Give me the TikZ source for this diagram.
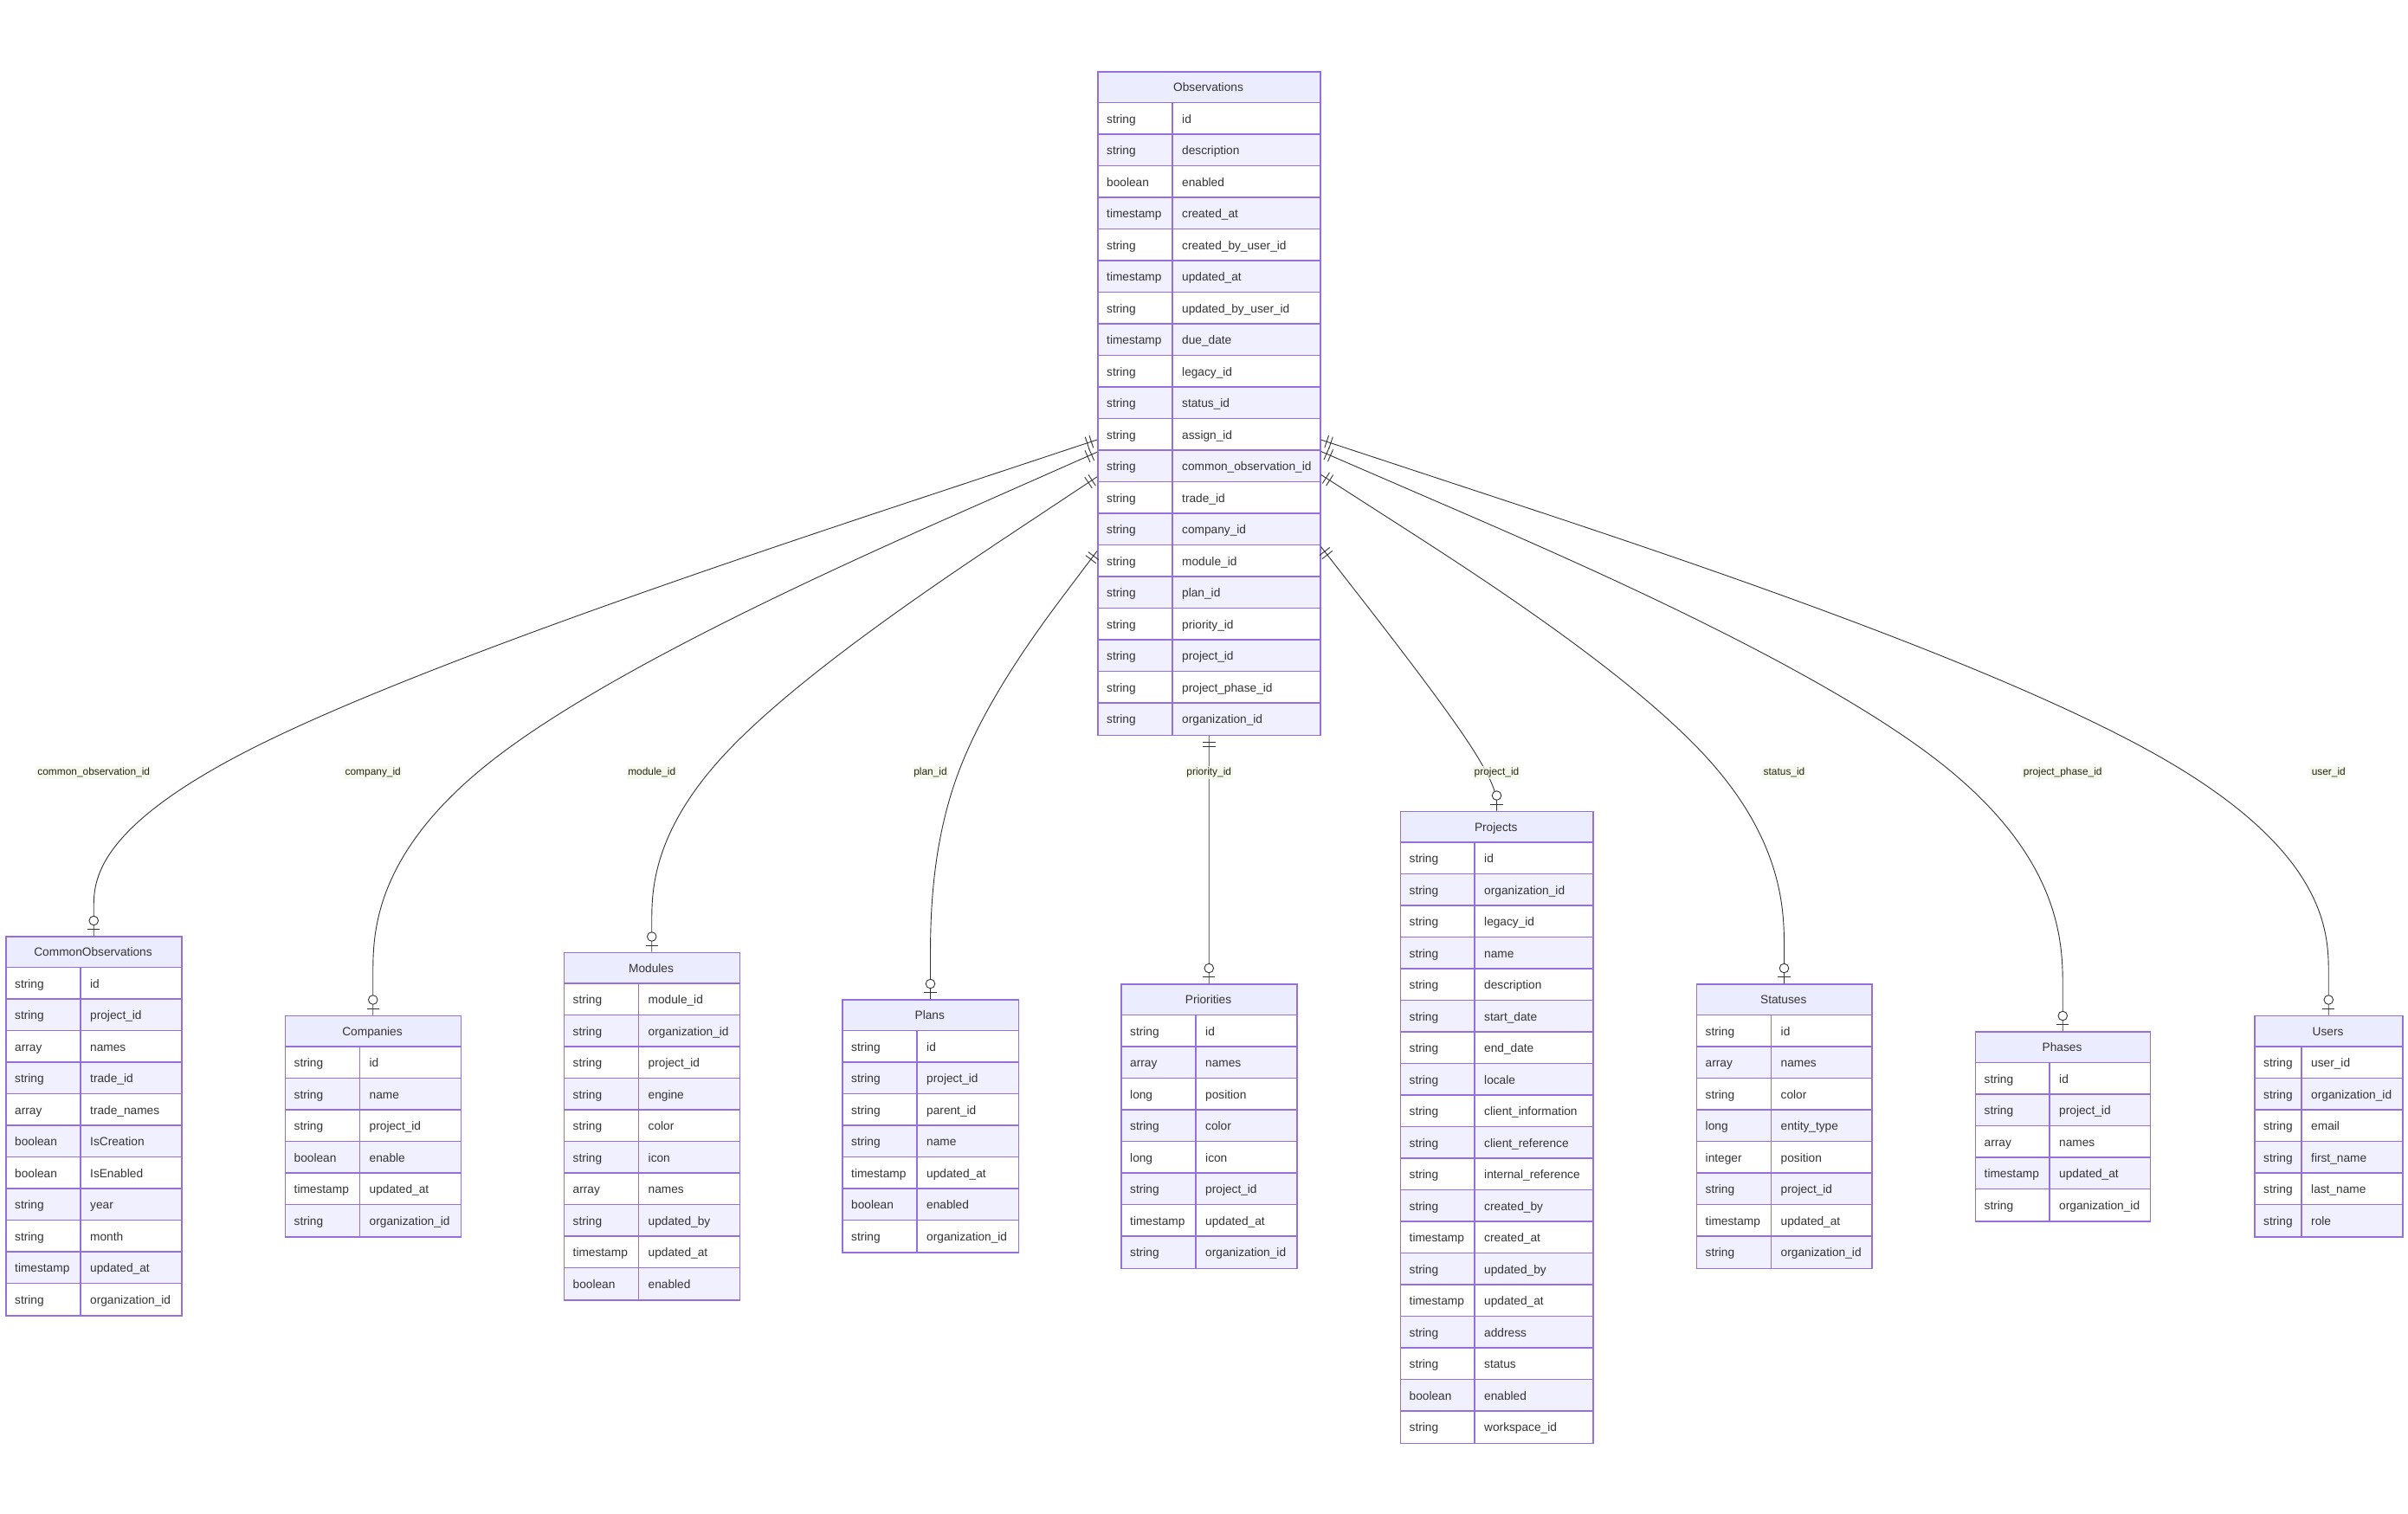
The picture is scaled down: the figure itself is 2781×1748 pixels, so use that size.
\documentclass[tikz,border=0pt]{standalone}
\usepackage{fontspec}
\setmainfont{Liberation Sans}
\usetikzlibrary{calc}
\definecolor{bord}{HTML}{9370DB}
\definecolor{hdrfill}{HTML}{ECECFF}
\definecolor{rowB}{HTML}{F1F0FF}
\definecolor{edgec}{HTML}{333333}
\definecolor{txtc}{HTML}{333333}
\definecolor{lbltxt}{HTML}{262616}
\definecolor{lblbg}{HTML}{F4F8E8}
\tikzset{
  grid/.style={draw=bord, line width=1.3pt},
  tblbox/.style={draw=bord, line width=1.5pt, anchor=north west, inner sep=0pt, fill=none},
  hdrtxt/.style={anchor=base, inner sep=0pt, text=txtc, font=\fontsize{13.7}{16}\selectfont},
  celltxt/.style={anchor=base west, inner sep=0pt, text=txtc, font=\fontsize{13.7}{16}\selectfont},
  edge/.style={draw=edgec, line width=0.9pt},
  elabel/.style={fill=lblbg, fill opacity=0.75, text opacity=1, text=lbltxt, inner xsep=1.5pt, inner ysep=1pt, minimum height=15pt, font=\fontsize{11.9}{14}\selectfont}
}
% #1 name, #2 left, #3 top, #4 width, #5 type col width, #6 nrows, #7 title, #8 rows
\newcommand{\erTable}[8]{%
  \fill[hdrfill] (#2,#3) rectangle ++(#4,36.5);
  \node[hdrtxt] (#1-h) at (#2+#4/2, #3+18.25+5.3) {#7};
  \foreach \ty/\nm [count=\i] in {#8} {
    \pgfmathsetmacro\yy{#3+36.5*\i}
    \ifodd\i \def\rf{white}\else\def\rf{rowB}\fi
    \fill[\rf] (#2,\yy) rectangle ++(#4,36.5);
  }
  \foreach \ty/\nm [count=\i] in {#8} {
    \pgfmathsetmacro\yy{#3+36.5*\i}
    \draw[grid] (#2,\yy) -- ++(#4,0);
    \node[celltxt] (#1-t\i) at (#2+11, \yy+18.25+5.3) {\ty};
    \node[celltxt] (#1-n\i) at (#2+#5+11, \yy+18.25+5.3) {\nm};
  }
  \draw[grid] (#2+#5,#3+36.5) -- ++(0,36.5*#6);
  \pgfmathsetmacro\hh{36.5*(#6+1)}
  \node[tblbox, minimum width=#4, minimum height=\hh] (#1) at (#2,#3) {};
}
% #1 parent, #2 child, #3 key, #4 label
\newcommand{\erEdge}[4]{%
  \coordinate (L#3) at (#2.north |- 0,892);
  \path (#1) -- (L#3) coordinate[pos=0] (A#3);
  \coordinate (C#3) at (#2.north);
  \draw[edge] (A#3) -- ($(A#3)!1/6!(L#3)$)
    .. controls ($(A#3)!1/3!(L#3)$) and ($(A#3)!2/3!(L#3)$) .. ($0.1666667*(A#3)+0.6666667*(L#3)+0.1666667*(C#3)$)
    .. controls ($(L#3)!1/3!(C#3)$) and ($(L#3)!2/3!(C#3)$) .. ($(L#3)!5/6!(C#3)$) -- (C#3);
  \draw[edge] ($(A#3)!7pt!(L#3)!7.5pt!90:(L#3)$) -- ($(A#3)!7pt!(L#3)!7.5pt!-90:(L#3)$);
  \draw[edge] ($(A#3)!12pt!(L#3)!7.5pt!90:(L#3)$) -- ($(A#3)!12pt!(L#3)!7.5pt!-90:(L#3)$);
  \draw[edge] ($(C#3)+(-7.2,-7.5)$) -- ($(C#3)+(7.2,-7.5)$);
  \draw[edge, fill=white] ($(C#3)+(0,-17.5)$) circle[radius=5.3pt];
  \node[elabel] (T#3) at (L#3) {#4};
}
\begin{document}
\begin{tikzpicture}[x=1pt, y=-1pt]
\useasboundingbox (0,0) rectangle (2781,1748);
\fill[white] (0,0) rectangle (2781,1748);

\erTable{obs}{1267}{82}{257}{87}{20}{Observations}{string/id, string/description, boolean/enabled, timestamp/created\_at, string/created\_by\_user\_id, timestamp/updated\_at, string/updated\_by\_user\_id, timestamp/due\_date, string/legacy\_id, string/status\_id, string/assign\_id, string/common\_observation\_id, string/trade\_id, string/company\_id, string/module\_id, string/plan\_id, string/priority\_id, string/project\_id, string/project\_phase\_id, string/organization\_id}

\erTable{co}{6}{1081}{203}{87}{11}{CommonObservations}{string/id, string/project\_id, array/names, string/trade\_id, array/trade\_names, boolean/IsCreation, boolean/IsEnabled, string/year, string/month, timestamp/updated\_at, string/organization\_id}

\erTable{comp}{328.5}{1172.5}{203}{87}{6}{Companies}{string/id, string/name, string/project\_id, boolean/enable, timestamp/updated\_at, string/organization\_id}

\erTable{mod}{650.5}{1099.5}{203}{87}{10}{Modules}{string/module\_id, string/organization\_id, string/project\_id, string/engine, string/color, string/icon, array/names, string/updated\_by, timestamp/updated\_at, boolean/enabled}

\erTable{plan}{972}{1154}{203.5}{87}{7}{Plans}{string/id, string/project\_id, string/parent\_id, string/name, timestamp/updated\_at, boolean/enabled, string/organization\_id}

\erTable{prio}{1294}{1136}{203}{87}{8}{Priorities}{string/id, array/names, long/position, string/color, long/icon, string/project\_id, timestamp/updated\_at, string/organization\_id}

\erTable{proj}{1616.5}{936.5}{222.5}{86.5}{19}{Projects}{string/id, string/organization\_id, string/legacy\_id, string/name, string/description, string/start\_date, string/end\_date, string/locale, string/client\_information, string/client\_reference, string/internal\_reference, string/created\_by, timestamp/created\_at, string/updated\_by, timestamp/updated\_at, string/address, string/status, boolean/enabled, string/workspace\_id}

\erTable{stat}{1958.5}{1136}{202.5}{87}{8}{Statuses}{string/id, array/names, string/color, long/entity\_type, integer/position, string/project\_id, timestamp/updated\_at, string/organization\_id}

\erTable{phase}{2280.5}{1191}{202}{86.5}{5}{Phases}{string/id, string/project\_id, array/names, timestamp/updated\_at, string/organization\_id}

\erTable{user}{2603}{1172.5}{171}{55}{6}{Users}{string/user\_id, string/organization\_id, string/email, string/first\_name, string/last\_name, string/role}

\erEdge{obs}{co}{co}{common\_observation\_id}
\erEdge{obs}{comp}{comp}{company\_id}
\erEdge{obs}{mod}{mod}{module\_id}
\erEdge{obs}{plan}{plan}{plan\_id}
\erEdge{obs}{prio}{prio}{priority\_id}
\erEdge{obs}{proj}{proj}{project\_id}
\erEdge{obs}{stat}{stat}{status\_id}
\erEdge{obs}{phase}{phase}{project\_phase\_id}
\erEdge{obs}{user}{user}{user\_id}
\end{tikzpicture}
\end{document}
